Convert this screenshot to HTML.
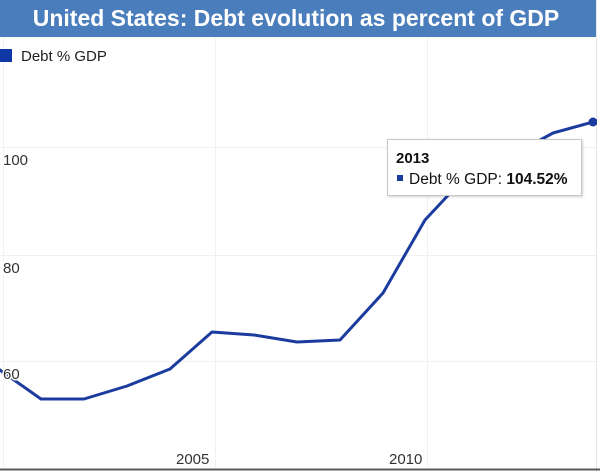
<!DOCTYPE html>
<html>
<head>
<meta charset="utf-8">
<style>
  html, body { margin: 0; padding: 0; background: #ffffff; }
  body { width: 600px; height: 472px; overflow: hidden; }
  svg { display: block; }
  text { font-family: "Liberation Sans", Arial, sans-serif; }
</style>
</head>
<body>
<svg width="600" height="472" viewBox="0 0 600 472" xmlns="http://www.w3.org/2000/svg">
  <defs>
    <clipPath id="plot">
      <rect x="0" y="37" width="597" height="432"/>
    </clipPath>
    <filter id="sh" x="-10%" y="-10%" width="130%" height="140%">
      <feDropShadow dx="1" dy="1" stdDeviation="1.2" flood-color="#000" flood-opacity="0.18"/>
    </filter>
  </defs>

  <rect x="0" y="0" width="600" height="472" fill="#ffffff"/>

  <!-- title bar -->
  <rect x="0" y="0" width="596" height="37" fill="#4a7dbb"/>
  <rect x="596" y="0" width="1" height="472" fill="#e6e6e6"/>
  <text x="296" y="26" text-anchor="middle" font-size="23" font-weight="bold" fill="#ffffff">United States: Debt evolution as percent of GDP</text>

  <!-- gridlines -->
  <g stroke="#f1f1f1" stroke-width="1">
    <line x1="0" y1="147.5" x2="596" y2="147.5"/>
    <line x1="0" y1="255.5" x2="596" y2="255.5"/>
    <line x1="0" y1="361.5" x2="596" y2="361.5"/>
    <line x1="3.5" y1="37" x2="3.5" y2="468"/>
    <line x1="215.5" y1="37" x2="215.5" y2="468"/>
    <line x1="427.5" y1="37" x2="427.5" y2="468"/>
  </g>

  <!-- legend -->
  <rect x="0" y="49" width="12" height="13" fill="#0f37a6"/>
  <text x="21" y="61" font-size="15" fill="#222">Debt % GDP</text>

  <!-- series line -->
  <g clip-path="url(#plot)">
    <polyline fill="none" stroke="#1b3c9e" stroke-width="3" stroke-linejoin="round" stroke-linecap="round"
      points="-1.6,369 41,399 84,399 127,386 170,369 212,332 254,335 297,342 340,340 383,293 425,220 468,174 511,156 553,133 593,122"/>
    <circle cx="593" cy="122" r="4.5" fill="#1b3c9e"/>
  </g>

  <!-- y labels -->
  <g font-size="15" fill="#333" stroke="#ffffff" stroke-width="3" paint-order="stroke" stroke-linejoin="round">
    <text x="3" y="165">100</text>
    <text x="3" y="273">80</text>
    <text x="3" y="379">60</text>
  </g>

  <!-- x labels -->
  <g font-size="15" fill="#333">
    <text x="176" y="464">2005</text>
    <text x="389" y="464">2010</text>
  </g>

  <!-- bottom axis line -->
  <rect x="0" y="468.5" width="600" height="2" fill="#5a5a5a"/>

  <!-- tooltip -->
  <rect x="387.5" y="139.5" width="194" height="56" fill="#ffffff" stroke="#c8c8c8" stroke-width="1" filter="url(#sh)"/>
  <text x="396" y="163" font-size="15" font-weight="bold" fill="#111">2013</text>
  <rect x="397" y="175" width="6" height="6" fill="#1b3c9e"/>
  <text x="409" y="184" font-size="15.5" fill="#111">Debt % GDP: <tspan font-weight="bold">104.52%</tspan></text>
</svg>
</body>
</html>
